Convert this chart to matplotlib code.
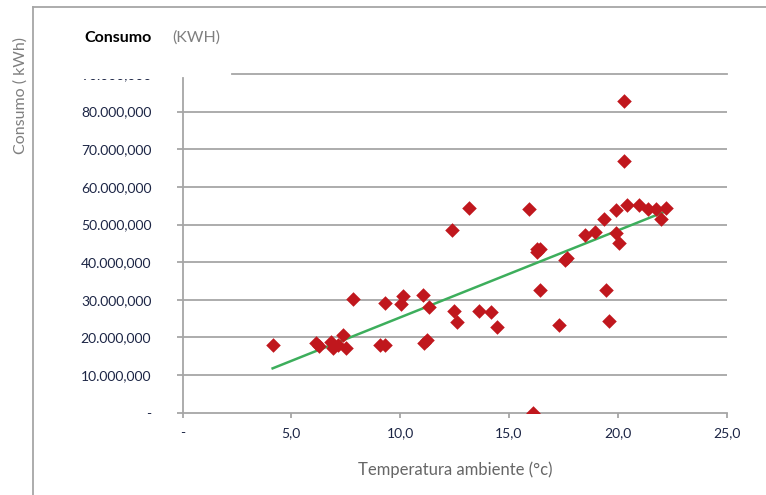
import matplotlib
matplotlib.use("Agg")
import matplotlib.pyplot as plt
import numpy as np
from matplotlib.transforms import Bbox, TransformedBbox

plt.rcParams['font.family'] = ['Lato', 'DejaVu Sans']

# temperatura ambiente (°C) y consumo (kWh)
temperatura = [4.14, 6.12, 6.29, 6.83, 6.90, 7.16, 7.36, 7.51, 7.82, 9.05,
               9.31, 9.28, 10.03, 10.15, 11.07, 11.10, 11.25, 11.33, 12.37, 12.46,
               12.61, 13.18, 13.60, 14.16, 14.47, 15.94, 16.10, 16.28, 16.43, 16.30,
               16.43, 17.30, 17.58, 17.66, 18.47, 18.93, 19.37, 19.45, 19.60, 19.90,
               19.90, 20.07, 20.26, 20.26, 20.41, 20.95, 21.38, 21.76, 22.00, 22.20]
consumo = [18.05, 18.5, 17.8, 18.8, 17.2, 17.9, 20.6, 17.2, 30.2, 18.05,
           18.05, 29.2, 29.0, 30.9, 31.4, 18.5, 19.2, 28.1, 48.5, 27.1,
           24.0, 54.5, 27.1, 26.7, 22.9, 54.2, 0.0, 43.4, 43.6, 42.7,
           32.7, 23.2, 40.7, 41.2, 47.1, 48.1, 51.4, 32.7, 24.3, 53.8,
           47.8, 45.2, 82.7, 66.9, 55.1, 55.1, 54.1, 54.1, 51.6, 54.4]
consumo = [c * 1e6 for c in consumo]

y_ticks = [0, 10e6, 20e6, 30e6, 40e6, 50e6, 60e6, 70e6, 80e6]
y_labels = ["-", "10.000,000", "20.000,000", "30.000,000", "40.000,000",
            "50.000,000", "60.000,000", "70.000,000", "80.000,000"]
x_ticks = [0, 5, 10, 15, 20, 25]
x_labels = ["-", "5,0", "10,0", "15,0", "20,0", "25,0"]

grey = "#A6A6A6"
navy = "#1C2545"

fig = plt.figure(figsize=(7.66, 4.95), dpi=100)
W, H = 766, 495

def fx(px):
    return px / W

def fy(py):
    return (H - py) / H

# marco exterior
fig.add_artist(plt.Line2D([fx(33), fx(33)], [fy(7), 0], color=grey, lw=1.3))
fig.add_artist(plt.Line2D([fx(33), 1], [fy(7), fy(7)], color=grey, lw=1.3))

ax = fig.add_axes([fx(182.5), fy(412.7), (726.7 - 182.5) / W, (412.7 - 74) / H])
ax.set_xlim(0, 25)
ax.set_ylim(0, 90e6)

for y in y_ticks[1:]:
    ax.axhline(y, color=grey, lw=1.3, zorder=1)
ax.axhline(90e6, xmin=(232 - 182.5) / (726.7 - 182.5), color=grey, lw=1.3, zorder=1, clip_on=False)

ax.scatter(temperatura, consumo, marker="D", s=55, color="#C0171D", zorder=3, linewidths=0)

# línea de tendencia
m, b = np.polyfit(temperatura, consumo, 1)
xs = np.array([min(temperatura), max(temperatura)])
ax.plot(xs, m * xs + b, color="#3DAE5C", lw=1.8, zorder=2)

for s in ["top", "right"]:
    ax.spines[s].set_visible(False)
for s in ["left", "bottom"]:
    ax.spines[s].set_color(grey)
    ax.spines[s].set_linewidth(1.3)
ax.spines["left"].set_bounds(0, 89e6)

ax.set_yticks(y_ticks)
ax.set_yticklabels(y_labels)
ax.set_xticks(x_ticks)
ax.set_xticklabels(x_labels)
ax.tick_params(axis="y", length=4.5, width=1.3, color=grey, pad=18, labelsize=10, labelcolor=navy)
ax.tick_params(axis="x", length=3.5, width=1.3, color=grey, pad=7, labelsize=10, labelcolor=navy)

# etiqueta de 90M cortada
t = fig.text(fx(152), fy(75), "90.000,000", ha="right", va="center", fontsize=10, color=navy)
t.set_clip_on(True)
t.set_clip_box(TransformedBbox(Bbox([[fx(60), fy(82)], [fx(170), fy(78.5)]]), fig.transFigure))

fig.text(fx(152), fy(38), "Consumo", ha="right", va="center", fontsize=11.5, fontweight="bold", color="black")
fig.text(fx(172), fy(38), "(KWH)", ha="left", va="center", fontsize=11.5, color="#7F7F7F")

fig.text(fx(21), fy(95), "Consumo ( kWh)", rotation=90, ha="center", va="center", fontsize=11.5, color="#7F7F7F")
fig.text(fx(455), fy(470), "Temperatura ambiente (°c)", ha="center", va="center", fontsize=12, color="#666666")

fig.savefig("out.png", dpi=100)
